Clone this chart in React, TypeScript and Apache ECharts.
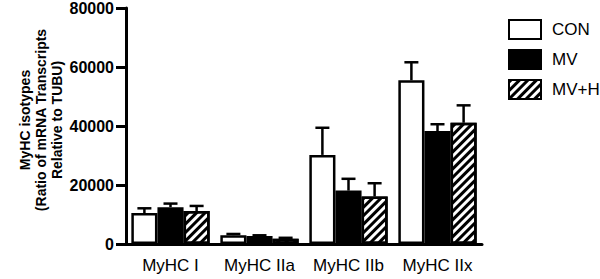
import React, { useEffect, useRef } from "react";
import * as echarts from "echarts";

const categories = ["MyHC I", "MyHC IIa", "MyHC IIb", "MyHC IIx"];
const seriesNames = ["CON", "MV", "MV+H"];
const conValues = [10500, 3000, 30200, 55500];
const conErrors = [1600, 400, 9200, 6100];
const mvValues = [12500, 2700, 18100, 38300];
const mvErrors = [1200, 250, 4000, 2300];
const mvhValues = [11200, 1800, 16100, 41100];
const mvhErrors = [1700, 300, 4500, 5900];
const yTicks = [0, 20000, 40000, 60000, 80000];

const FONT = "'Liberation Sans', Arial, Helvetica, sans-serif";
const CAT_GAP = 0.12;

export default function App() {
  const ref = useRef<HTMLDivElement>(null);
  useEffect(() => {
    if (!ref.current) return;
    const chart = echarts.init(ref.current, undefined, { renderer: "svg" });
    const values = [conValues, mvValues, mvhValues];
    const errors = [conErrors, mvErrors, mvhErrors];
    const styles = [
      { color: "#ffffff", borderColor: "#000", borderWidth: 2.5 },
      { color: "#000000", borderColor: "#000", borderWidth: 2.5 },
      {
        color: "#ffffff",
        borderColor: "#000",
        borderWidth: 2.5,
        decal: {
          symbol: "rect",
          color: "#000000",
          backgroundColor: "#ffffff",
          dashArrayX: [1, 0],
          dashArrayY: [2.5, 2.8],
          rotation: -Math.PI / 4,
          symbolSize: 1,
        },
      },
    ];
    const barSeries = seriesNames.map((name, i) => ({
      name,
      type: "bar",
      data: values[i],
      barGap: "0%",
      barCategoryGap: CAT_GAP * 100 + "%",
      itemStyle: styles[i],
      emphasis: { disabled: true },
      z: 2,
    }));
    const errSeries = seriesNames.map((name, si) => ({
      type: "custom",
      name: name + "_err",
      data: values[si].map((v, ci) => [ci, v, v + errors[si][ci]]),
      z: 1,
      silent: true,
      renderItem: (params: any, api: any) => {
        const ci = api.value(0);
        const base = api.coord([ci, api.value(1)]);
        const top = api.coord([ci, api.value(2)]);
        const band = api.size([1, 0])[0];
        const usable = band * (1 - CAT_GAP);
        const bw = usable / 3;
        const x = base[0] - usable / 2 + bw * (si + 0.5);
        const cap = 7;
        const st = { stroke: "#000", lineWidth: 2.5 };
        return {
          type: "group",
          children: [
            { type: "line", shape: { x1: x, y1: base[1], x2: x, y2: top[1] }, style: st },
            { type: "line", shape: { x1: x - cap, y1: top[1], x2: x + cap, y2: top[1] }, style: st },
          ],
        };
      },
    }));
    chart.setOption({
      animation: false,
      grid: { left: 126, right: 118, top: 6, bottom: 35, containLabel: false },
      legend: {
        data: seriesNames,
        orient: "vertical",
        left: 503,
        top: 14,
        itemWidth: 32,
        itemHeight: 19,
        itemGap: 9,
        icon: "rect",
        textStyle: { fontFamily: FONT, fontSize: 17, color: "#000", padding: [0, 0, 0, 6] },
        selectedMode: false,
      },
      xAxis: {
        type: "category",
        data: categories,
        axisLine: { show: true, lineStyle: { color: "#000", width: 3 } },
        axisTick: { show: false },
        axisLabel: { fontFamily: FONT, fontSize: 17, color: "#000", margin: 13, interval: 0 },
      },
      yAxis: {
        type: "value",
        min: yTicks[0],
        max: yTicks[yTicks.length - 1],
        interval: yTicks[1] - yTicks[0],
        splitLine: { show: false },
        axisLine: { show: true, lineStyle: { color: "#000", width: 3 } },
        axisTick: { show: true, length: 10, lineStyle: { color: "#000", width: 3 } },
        axisLabel: {
          fontFamily: FONT,
          fontSize: 16,
          fontWeight: "bold",
          color: "#000",
          margin: 12,
          formatter: (v: number) => String(v),
        },
      },
      graphic: [
        {
          type: "text",
          x: 41,
          y: 120,
          rotation: Math.PI / 2,
          style: {
            text: "MyHC isotypes\n(Ratio of mRNA Transcripts\nRelative to TUBU)",
            font: "bold 14px " + FONT,
            fill: "#000",
            align: "center",
            verticalAlign: "middle",
            lineHeight: 16,
          },
        },
      ],
      series: [...barSeries, ...errSeries],
    });
    return () => chart.dispose();
  }, []);
  return <div ref={ref} style={{ width: 600, height: 279, position: "absolute", left: 0, top: 0 }} />;
}
